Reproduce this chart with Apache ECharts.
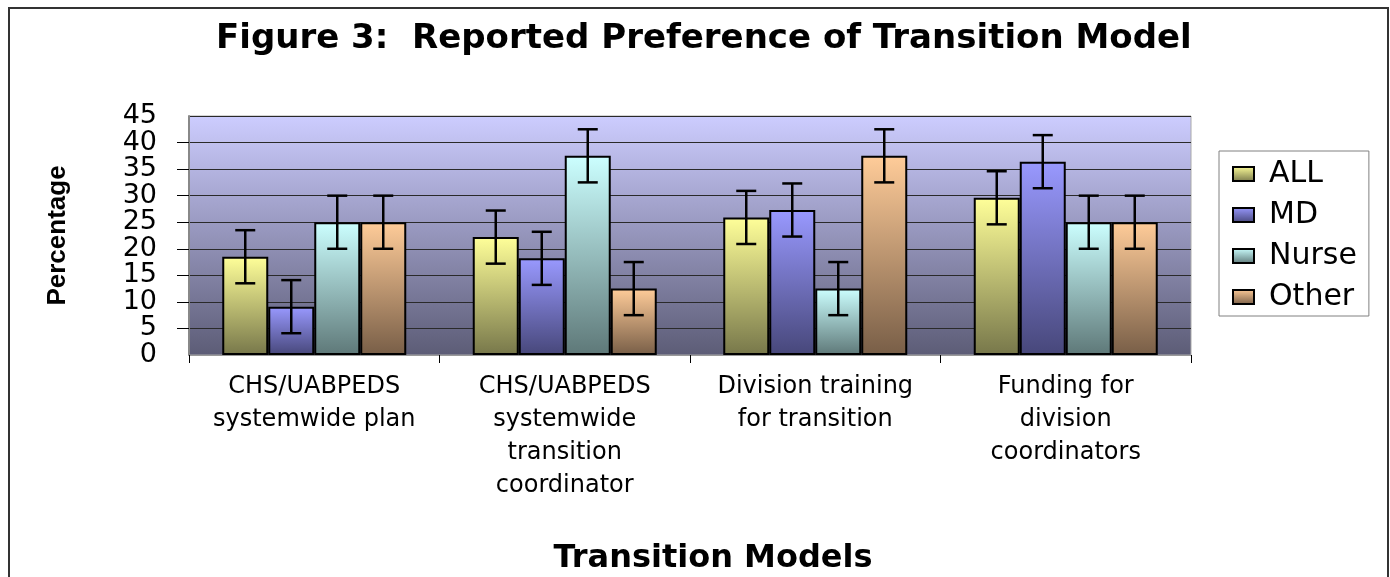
<!DOCTYPE html>
<html>
<head>
<meta charset="utf-8">
<script src="https://cdn.jsdelivr.net/npm/echarts@6/dist/echarts.min.js"></script>
<style>
  html, body { margin: 0; padding: 0; background: #fff; }
  #main { width: 1390px; height: 577px; }
</style>
</head>
<body>
<div id="main"></div>
<script>
const categories = [
  'CHS/UABPEDS\nsystemwide plan',
  'CHS/UABPEDS\nsystemwide\ntransition\ncoordinator',
  'Division training\nfor transition',
  'Funding for\ndivision\ncoordinators'
];
const groups = ['ALL', 'MD', 'Nurse', 'Other'];
const allValues = [18.5, 22.2, 25.9, 29.6];
const mdValues = [9.1, 18.2, 27.3, 36.4];
const nurseValues = [25, 37.5, 12.5, 25];
const otherValues = [25, 12.5, 37.5, 25];
const errorSize = 5; // +/- on every bar
const yTicks = [0, 5, 10, 15, 20, 25, 30, 35, 40, 45];

const seriesValues = [allValues, mdValues, nurseValues, otherValues];
const topColors = ['#ffff99', '#9999ff', '#ccffff', '#ffcc99'];
const bottomColors = ['#77774a', '#47477a', '#5e7878', '#785e47'];
const barW = 46;
const yMin = yTicks[0];
const yMax = yTicks[yTicks.length - 1];

const chart = echarts.init(document.getElementById('main'));

const fade = (top, bottom) => new echarts.graphic.LinearGradient(0, 0, 0, 1, [
  { offset: 0, color: top },
  { offset: 1, color: bottom }
]);

const barSeries = groups.map((name, i) => ({
  name: name,
  type: 'bar',
  barWidth: barW,
  barGap: '0%',
  data: seriesValues[i],
  itemStyle: {
    color: fade(topColors[i], bottomColors[i]),
    borderColor: '#000',
    borderWidth: 2
  },
  z: 2
}));

// error bars, one custom series per group so they sit on their own bar
const errorSeries = groups.map((name, i) => ({
  type: 'custom',
  silent: true,
  z: 5,
  data: seriesValues[i].map((v, c) => [c, v - errorSize, v + errorSize]),
  renderItem: (params, api) => {
    const c = api.value(0);
    const lo = api.coord([c, api.value(1)]);
    const hi = api.coord([c, api.value(2)]);
    const x = lo[0] + (i - 1.5) * barW;
    const cap = 10;
    const st = { stroke: '#000', lineWidth: 2.5 };
    return {
      type: 'group',
      children: [
        { type: 'line', shape: { x1: x, y1: hi[1], x2: x, y2: lo[1] }, style: st },
        { type: 'line', shape: { x1: x - cap, y1: hi[1], x2: x + cap, y2: hi[1] }, style: st },
        { type: 'line', shape: { x1: x - cap, y1: lo[1], x2: x + cap, y2: lo[1] }, style: st }
      ]
    };
  }
}));

const yLabelStyle = { margin: 32, fontFamily: 'DejaVu Sans', fontSize: 27, color: '#000' };

const option = {
  backgroundColor: '#fff',
  animation: false,
  title: {
    text: 'Figure 3:  Reported Preference of Transition Model',
    left: 216,
    top: 22,
    padding: 0,
    textStyle: { fontFamily: 'DejaVu Sans', fontWeight: 'bold', fontSize: 34, color: '#000' }
  },
  legend: {
    data: groups,
    orient: 'vertical',
    left: 1219,
    top: 151,
    padding: [8, 12, 4, 13],
    itemGap: 11,
    itemWidth: 21,
    itemHeight: 14,
    icon: 'rect',
    borderColor: '#808080',
    borderWidth: 1,
    backgroundColor: '#fff',
    textStyle: { fontFamily: 'DejaVu Sans', fontSize: 30, lineHeight: 30, color: '#000', padding: [0, 0, 0, 10] }
  },
  graphic: [{
    type: 'rect',
    z: -1,
    shape: { x: 9, y: 8, width: 1379, height: 700 },
    style: { fill: 'none', stroke: '#333', lineWidth: 2 }
  }],
  grid: {
    left: 189,
    right: 199,
    top: 116,
    bottom: 222,
    show: true,
    borderColor: '#aaa',
    borderWidth: 1,
    backgroundColor: fade('#cdcdff', '#5c5c76')
  },
  xAxis: {
    type: 'category',
    data: categories,
    name: 'Transition Models',
    nameLocation: 'middle',
    nameGap: 188,
    nameTextStyle: { fontFamily: 'DejaVu Sans', fontWeight: 'bold', fontSize: 32, color: '#000', padding: [0, 0, 0, 46] },
    axisLine: { lineStyle: { color: '#999', width: 1 } },
    axisTick: { show: true, length: 8, lineStyle: { color: '#000' } },
    axisLabel: {
      interval: 0,
      margin: 15,
      fontFamily: 'DejaVu Sans',
      fontSize: 24,
      lineHeight: 33,
      color: '#000'
    }
  },
  yAxis: [{
    type: 'value',
    min: yMin,
    max: yMax,
    interval: yTicks[1] - yTicks[0],
    name: 'Percentage',
    nameLocation: 'middle',
    nameRotate: 90,
    nameGap: 118,
    nameTextStyle: { fontFamily: 'Liberation Sans', fontWeight: 'bold', fontSize: 26, color: '#000' },
    axisLine: { show: true, lineStyle: { color: '#888', width: 2 } },
    axisTick: { show: true, length: 12, lineStyle: { color: '#000' } },
    axisLabel: Object.assign({ showMinLabel: false, showMaxLabel: false }, yLabelStyle),
    splitLine: { show: true, lineStyle: { color: '#2a2a2a', width: 1 } }
  }, {
    // same scale, only carries the end labels (0 and 45)
    type: 'value',
    position: 'left',
    min: yMin,
    max: yMax,
    interval: yTicks[1] - yTicks[0],
    axisLine: { show: false },
    axisTick: { show: false },
    splitLine: { show: false },
    axisLabel: Object.assign({
      showMinLabel: true,
      showMaxLabel: true,
      formatter: (v) => (v === yMin || v === yMax) ? String(v) : ''
    }, yLabelStyle)
  }],
  series: [...barSeries, ...errorSeries]
};

chart.setOption(option);
</script>
</body>
</html>
